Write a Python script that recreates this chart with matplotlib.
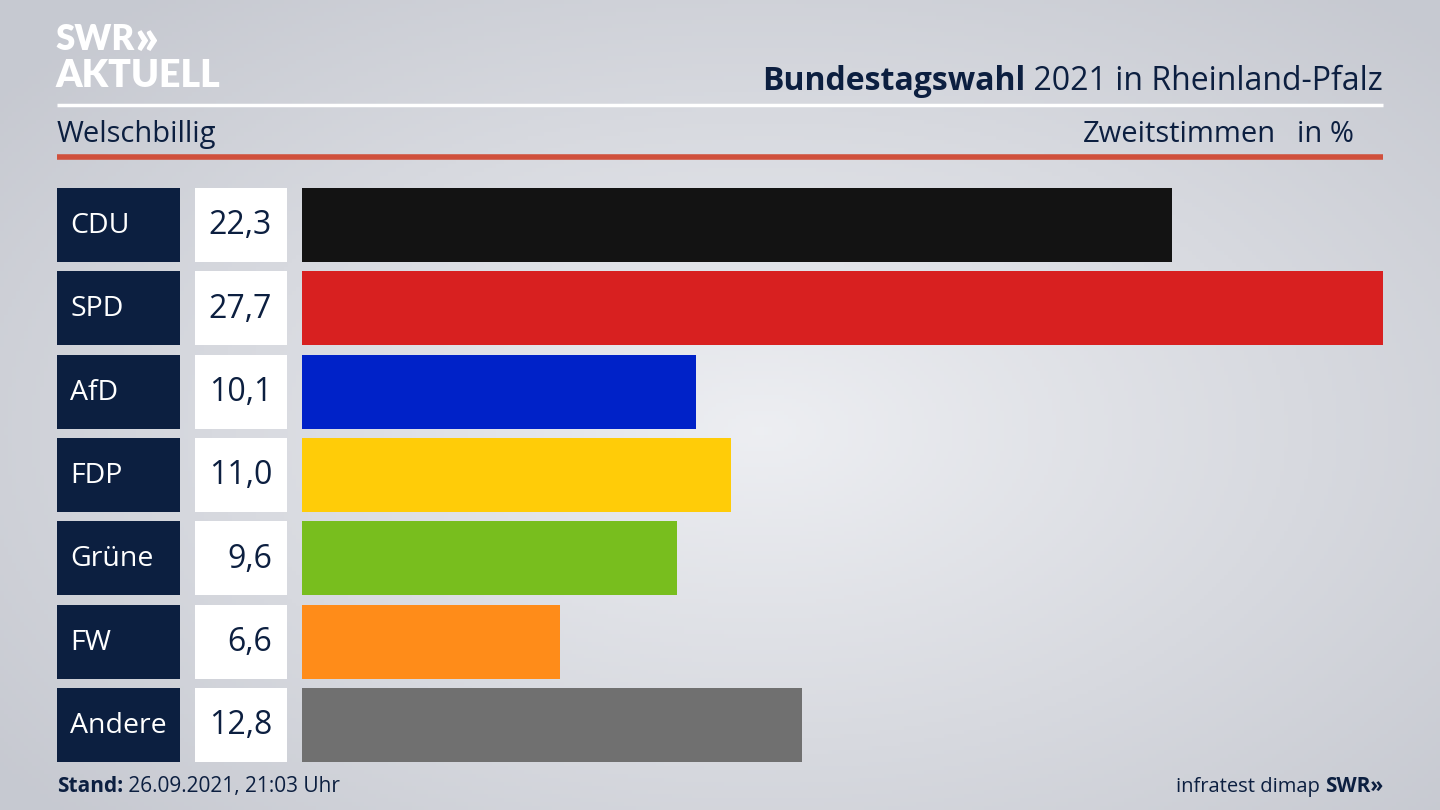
import numpy as np
import matplotlib.pyplot as plt
from matplotlib.patches import Rectangle

# Daten
parteien = ['CDU', 'SPD', 'AfD', 'FDP', 'Grüne', 'FW', 'Andere']
werte = [22.3, 27.7, 10.1, 11.0, 9.6, 6.6, 12.8]
farben = ['#131313', '#d82020', '#0022c8', '#ffcc08', '#78be1e', '#ff8c19', '#707070']
werte_text = ['22,3', '27,7', '10,1', '11,0', '9,6', '6,6', '12,8']

titel_fett = 'Bundestagswahl'
titel_rest = ' 2021 in Rheinland-Pfalz'
ort = 'Welschbillig'
stand = '26.09.2021, 21:03 Uhr'

navy = '#0c1f40'
plt.rcParams['font.family'] = ['Open Sans', 'DejaVu Sans']

W, H = 1440, 810
fig = plt.figure(figsize=(14.4, 8.1), dpi=100)

# Hintergrund mit Verlauf (Pixel-Koordinaten)
bg = fig.add_axes([0, 0, 1, 1])
bg.set_xlim(0, W)
bg.set_ylim(H, 0)
bg.axis('off')
yy, xx = np.mgrid[0:H:4, 0:W:4]
d = np.sqrt(((xx - 760) / 950.0) ** 2 + ((yy - 430) / 560.0) ** 2)
grad = np.clip(1 - d, 0, 1)
c_rand = np.array([0.78, 0.79, 0.82])
c_mitte = np.array([0.93, 0.935, 0.95])
img = c_rand + (c_mitte - c_rand) * grad[..., None]
bg.imshow(img, extent=[0, W, H, 0], aspect='auto', zorder=0)

# Logo
logo = bg.text(55, 50, 'SWR', color='white', fontsize=25, fontweight='heavy',
               family=['Lato', 'DejaVu Sans'], va='baseline', ha='left')
bg.annotate('»', xy=(1, 0), xycoords=logo, xytext=(0, -4), textcoords='offset points',
            color='white', fontsize=36, fontweight='heavy', family=['Lato', 'DejaVu Sans'],
            va='bottom', ha='left')
bg.text(55, 87, 'AKTUELL', color='white', fontsize=27, fontweight='heavy',
        family=['Lato', 'DejaVu Sans'], va='baseline', ha='left')

# Titel
t = bg.text(1383, 90, titel_rest, color=navy, fontsize=23, va='baseline', ha='right')
bg.annotate(titel_fett, xy=(0, 0), xycoords=t, color=navy, fontsize=23,
            fontweight='bold', va='bottom', ha='right')

bg.plot([57, 1383], [105, 105], color='white', lw=2.5, solid_capstyle='butt')
bg.text(57, 142, ort, color=navy, fontsize=21, va='baseline', ha='left')
bg.text(1276, 142, 'Zweitstimmen', color=navy, fontsize=21, va='baseline', ha='right')
bg.text(1354, 142, 'in %', color=navy, fontsize=21, va='baseline', ha='right')
bg.plot([57, 1383], [157, 157], color='#d0503c', lw=4, solid_capstyle='butt')

# Zeilen: Label- und Wertkaesten
oben, abstand, hoehe = 188, 83.33, 74
for i, (p, wt) in enumerate(zip(parteien, werte_text)):
    y0 = oben + i * abstand
    bg.add_patch(Rectangle((57, y0), 123, hoehe, color=navy, lw=0))
    bg.add_patch(Rectangle((195, y0), 92, hoehe, color='white', lw=0))
    bg.text(70, y0 + hoehe / 2 + 1, p, color='white', fontsize=20.5, va='center', ha='left')
    bg.text(272, y0 + hoehe / 2 + 1, wt, color=navy, fontsize=23, va='center', ha='right')

# Balken
ax = fig.add_axes([302 / W, (H - 762) / H, (1383 - 302) / W, (762 - 188) / H])
ax.barh(range(len(werte)), werte, height=hoehe / abstand, color=farben)
ax.set_xlim(0, max(werte))
ax.set_ylim(len(werte) - 1 + hoehe / abstand / 2, -hoehe / abstand / 2)
ax.axis('off')
ax.patch.set_alpha(0)

# Fusszeile
s = bg.text(57, 792, 'Stand:', color=navy, fontsize=15, fontweight='bold', va='baseline', ha='left')
bg.annotate(' ' + stand, xy=(1, 0), xycoords=s, color=navy, fontsize=15, va='bottom', ha='left')
r = bg.text(1383, 792, 'SWR»', color=navy, fontsize=15, fontweight='bold', va='baseline', ha='right')
bg.annotate('infratest dimap ', xy=(0, 0), xycoords=r, color=navy, fontsize=14.5, va='bottom', ha='right')

fig.savefig('out.png', dpi=100)
